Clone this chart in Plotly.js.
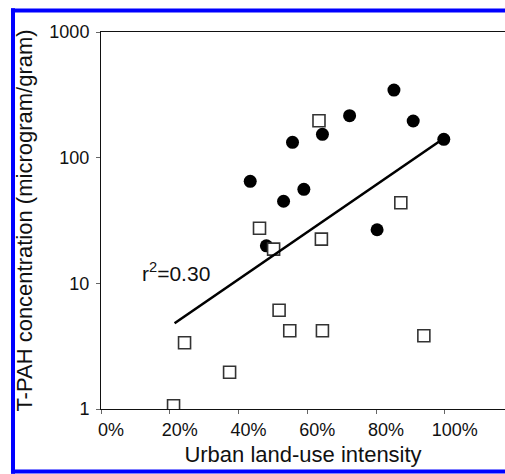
<!DOCTYPE html>
<html>
<head>
<meta charset="utf-8">
<script src="https://cdn.plot.ly/plotly-3.0.1.min.js"></script>
<style>
  html, body { margin: 0; padding: 0; background: #fff; overflow: hidden; }
  #chart { width: 505px; height: 474px; }
</style>
</head>
<body>
<div id="chart"></div>
<script>
// Filled circles (fraction of urban land use, T-PAH microgram/gram)
const circleX = [0.434, 0.557, 0.531, 0.481, 0.590, 0.644, 0.723, 0.852, 0.803, 0.908, 0.997];
const circleY = [64.8, 132.5, 45.0, 19.9, 56.0, 153.4, 215.8, 345.0, 26.7, 195.8, 140.0];

// Open squares
const squareX = [0.634, 0.461, 0.502, 0.641, 0.872, 0.518, 0.549, 0.644, 0.939, 0.243, 0.374, 0.211];
const squareY = [196.8, 27.4, 18.7, 22.5, 43.8, 6.1, 4.2, 4.2, 3.83, 3.37, 1.96, 1.06];

// Regression line endpoints
const trendX = [0.214, 0.990];
const trendY = [4.81, 138.2];

// Axis ticks
const xTicks = [0, 0.2, 0.4, 0.6, 0.8, 1.0];
const xTickText = ['0%', '20%', '40%', '60%', '80%', '100%'];
const yTicks = [1, 10, 100, 1000];
const yTickText = ['1', '10', '100', '1000'];

const FONT = 'Arial, "Liberation Sans", sans-serif';
const BLUE = '#0000ff';

const traces = [
  { x: circleX, y: circleY, type: 'scatter', mode: 'markers',
    marker: { symbol: 'circle', size: 13, color: '#000', line: { width: 0 } }, hoverinfo: 'skip' },
  { x: squareX, y: squareY, type: 'scatter', mode: 'markers',
    marker: { symbol: 'square', size: 12, color: '#fff', line: { width: 1.6, color: '#333' } }, hoverinfo: 'skip' },
  { x: trendX, y: trendY, type: 'scatter', mode: 'lines',
    line: { color: '#000', width: 2.6 }, hoverinfo: 'skip' }
];

// Blue picture frame (left, top, bottom edges; right side is cut off in the original)
const frameLeft = -0.2178, frameTop = 1.057, frameBottom = -0.1658, frameRight = 1.2;

const layout = {
  width: 505, height: 474,
  margin: { l: 101, r: 0, t: 32, b: 65 },
  paper_bgcolor: '#fff', plot_bgcolor: '#fff',
  showlegend: false,
  font: { family: FONT, color: '#111' },
  xaxis: {
    range: [0, 1.175], tickvals: xTicks, ticktext: xTickText,
    ticks: 'outside', ticklen: 4, tickcolor: '#666', tickwidth: 1, ticklabelshift: 10,
    showline: true, linecolor: '#111', linewidth: 1, mirror: true,
    showgrid: false, zeroline: false,
    tickfont: { family: FONT, size: 18, color: '#111' },
    title: { text: 'Urban land-use intensity', font: { family: FONT, size: 22, color: '#111' }, standoff: 8 }
  },
  yaxis: {
    type: 'log', range: [0, 3], tickvals: yTicks, ticktext: yTickText,
    ticks: 'outside', ticklen: 4, tickcolor: '#666', tickwidth: 1, ticklabelstandoff: 3,
    showline: true, linecolor: '#111', linewidth: 1,
    showgrid: false, zeroline: false,
    tickfont: { family: FONT, size: 18, color: '#111' },
    title: { text: 'T-PAH concentration (microgram/gram)', font: { family: FONT, size: 22, color: '#111' }, standoff: 10 }
  },
  shapes: [
    { type: 'line', xref: 'paper', yref: 'paper', x0: frameLeft, x1: frameLeft, y0: frameBottom - 0.006, y1: frameTop + 0.006,
      line: { color: BLUE, width: 4 }, layer: 'above' },
    { type: 'line', xref: 'paper', yref: 'paper', x0: frameLeft - 0.005, x1: frameRight, y0: frameTop, y1: frameTop,
      line: { color: BLUE, width: 4 }, layer: 'above' },
    { type: 'line', xref: 'paper', yref: 'paper', x0: frameLeft - 0.005, x1: frameRight, y0: frameBottom, y1: frameBottom,
      line: { color: BLUE, width: 4 }, layer: 'above' }
  ],
  annotations: [
    { x: 0.112, y: 1.09, xref: 'x', yref: 'y', text: 'r<sup>2</sup>=0.30', showarrow: false,
      xanchor: 'left', yanchor: 'middle', font: { family: FONT, size: 21, color: '#111' } }
  ]
};

Plotly.newPlot('chart', traces, layout, { displayModeBar: false, staticPlot: true });
</script>
</body>
</html>
